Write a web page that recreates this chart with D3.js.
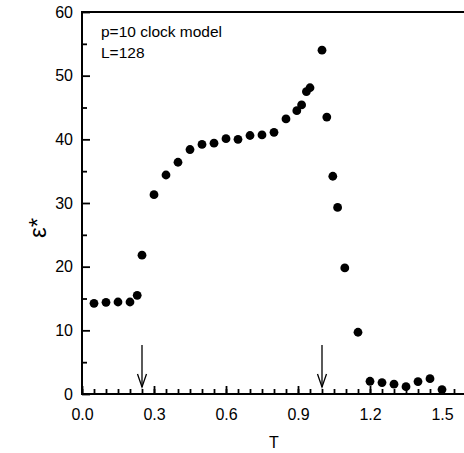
<!DOCTYPE html>
<html>
<meta charset="utf-8">
<head>
<title>clock model</title>
<script src="https://cdn.jsdelivr.net/npm/d3@7"></script>
<style>
body { margin: 0; background: #fff; }
text { font-family: "Liberation Sans", Arial, Helvetica, sans-serif; fill: #000; }
.axis path { display: none; }
.axis line { stroke: #000; stroke-width: 1.8; }
</style>
</head>
<body>
<div id="grafico"></div>
<script>
// datos
var temps = [0.05, 0.10, 0.15, 0.20, 0.23, 0.25, 0.30, 0.35, 0.40, 0.45, 0.50, 0.55, 0.60, 0.65, 0.70, 0.75, 0.80, 0.85,
	0.895, 0.915, 0.935, 0.95, 1.00, 1.02, 1.045, 1.065, 1.095, 1.15, 1.20, 1.25, 1.30, 1.35, 1.40, 1.45, 1.50];
var epsilon = [14.25, 14.4, 14.45, 14.45, 15.5, 21.8, 31.3, 34.4, 36.4, 38.4, 39.2, 39.4, 40.1, 40.0, 40.6, 40.7, 41.1, 43.2,
	44.5, 45.4, 47.5, 48.1, 54.0, 43.5, 34.2, 29.3, 19.8, 9.7, 2.0, 1.8, 1.55, 1.15, 1.95, 2.4, 0.7];
var xTicks = [0.0, 0.3, 0.6, 0.9, 1.2, 1.5];
var yTicks = [0, 10, 20, 30, 40, 50, 60];
var arrowT = [0.25, 1.0];
var arrowFrom = 7.7, arrowTo = 1.1;
var notas = ["p=10 clock model", "L=128"];

var width = 464, height = 453;
var margin = {top: 12, left: 82, bottom: 59};

var x = d3.scaleLinear().domain([0, 1.6]).range([margin.left, margin.left + 1.6 * 240]);
var y = d3.scaleLinear().domain([0, 60]).range([height - margin.bottom, margin.top]);

var svg = d3.select("#grafico").append("svg")
	.attr("width", width)
	.attr("height", height);

// ticks menores
svg.append("g")
	.attr("class", "axis")
	.attr("transform", "translate(0," + y(0) + ")")
	.call(d3.axisBottom(x).tickValues(d3.range(0, 1.56, 0.05)).tickSize(-5).tickFormat(""));
svg.append("g")
	.attr("class", "axis")
	.attr("transform", "translate(" + x(0) + ",0)")
	.call(d3.axisLeft(y).tickValues(d3.range(5, 60, 10)).tickSize(-5).tickFormat(""));

// ticks mayores
var xAxis = svg.append("g")
	.attr("class", "axis")
	.attr("transform", "translate(0," + y(0) + ")")
	.call(d3.axisBottom(x).tickValues(xTicks).tickSize(-8).tickPadding(15).tickFormat(d3.format(".1f")));
xAxis.selectAll("text").style("font-size", "16px").attr("dy", "0.71em");

var yAxis = svg.append("g")
	.attr("class", "axis")
	.attr("transform", "translate(" + x(0) + ",0)")
	.call(d3.axisLeft(y).tickValues(yTicks).tickSize(-8).tickPadding(9).tickFormat(d3.format("d")));
yAxis.selectAll("text").style("font-size", "16px");

// marco
svg.append("rect")
	.attr("x", x(0))
	.attr("y", y(60))
	.attr("width", x(1.6) - x(0))
	.attr("height", y(0) - y(60))
	.attr("fill", "none")
	.attr("stroke", "#000")
	.attr("stroke-width", 2);

// puntos
svg.append("g").selectAll("circle")
	.data(temps)
  .enter().append("circle")
	.attr("cx", function(d) { return x(d); })
	.attr("cy", function(d, i) { return y(epsilon[i]); })
	.attr("r", 4.4)
	.attr("fill", "#000");

// flechas
var flecha = svg.append("g").selectAll("g")
	.data(arrowT)
  .enter().append("g");
flecha.append("line")
	.attr("x1", function(d) { return x(d); })
	.attr("x2", function(d) { return x(d); })
	.attr("y1", y(arrowFrom))
	.attr("y2", y(arrowTo))
	.attr("stroke", "#000")
	.attr("stroke-width", 1.3);
flecha.append("path")
	.attr("d", function(d) {
		var px = x(d), py = y(arrowTo);
		return "M" + (px - 4.5) + "," + (py - 13) + "L" + px + "," + py + "L" + (px + 4.5) + "," + (py - 13);
	})
	.attr("fill", "none")
	.attr("stroke", "#000")
	.attr("stroke-width", 1.3);

// textos
svg.selectAll(".nota")
	.data(notas)
  .enter().append("text")
	.attr("class", "nota")
	.attr("x", 101)
	.attr("y", function(d, i) { return 37 + i * 21; })
	.style("font-size", "15.5px")
	.text(function(d) { return d; });

svg.append("text")
	.attr("x", x(0.8))
	.attr("y", 448)
	.attr("text-anchor", "middle")
	.style("font-size", "16px")
	.text("T");

svg.append("text")
	.attr("transform", "translate(46,228) rotate(-90)")
	.attr("text-anchor", "middle")
	.style("font-size", "24px")
	.text("ε*");
</script>
</body>
</html>
